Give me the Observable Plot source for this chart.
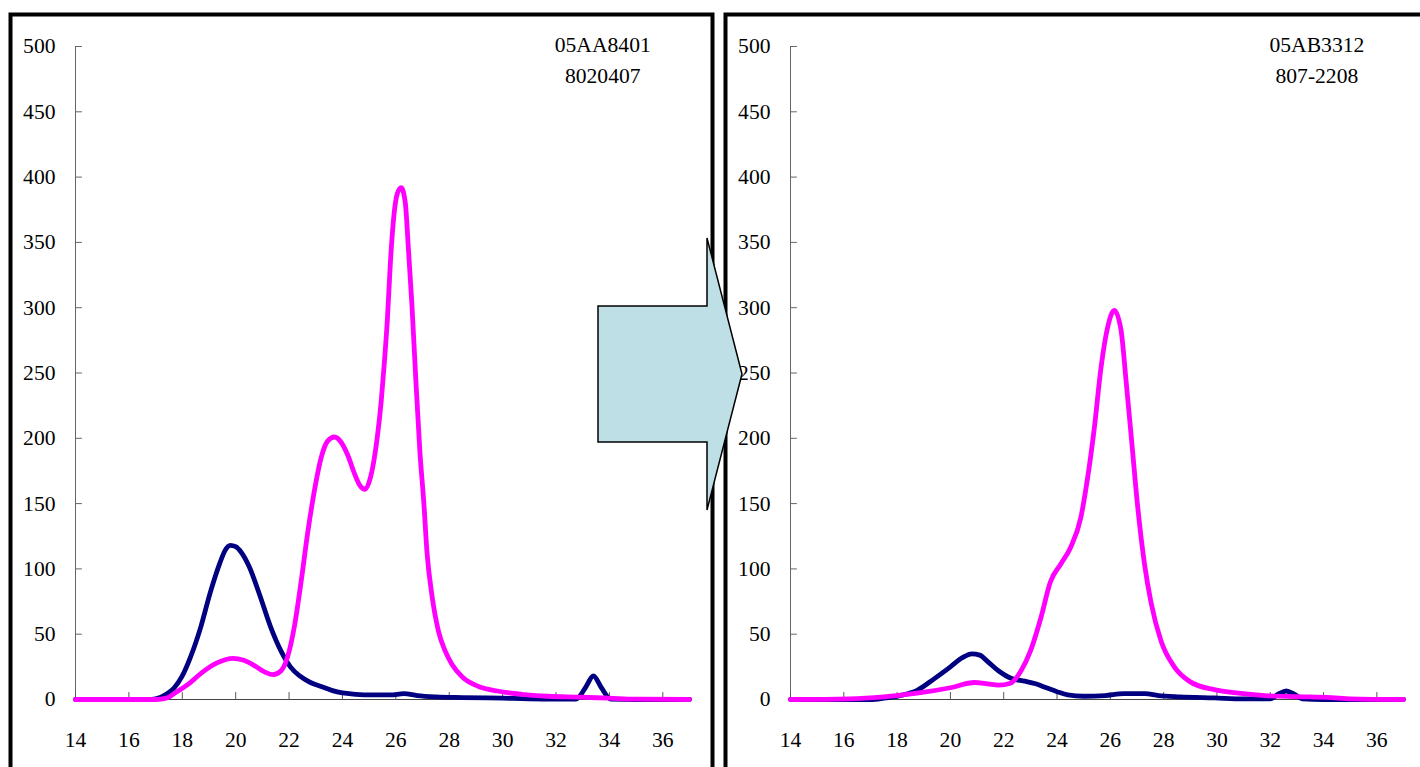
<!DOCTYPE html>
<html>
<head>
<meta charset="utf-8">
<script src="https://cdn.jsdelivr.net/npm/d3@7"></script>
<script src="https://cdn.jsdelivr.net/npm/@observablehq/plot@0.6"></script>
<style>
  html, body { margin: 0; padding: 0; background: #fff; }
  #wrap { position: relative; width: 1420px; height: 767px; overflow: hidden; background: #fff; }
  .panel { position: absolute; top: 0; }
  #overlay { position: absolute; left: 0; top: 0; }
</style>
</head>
<body>
<div id="wrap">
  <div id="p1" class="panel" style="left:0px"></div>
  <div id="p2" class="panel" style="left:715px"></div>
  <svg id="overlay" width="1420" height="767"></svg>
</div>
<script>
// ---- data ----
const xTicks = [14, 16, 18, 20, 22, 24, 26, 28, 30, 32, 34, 36];
const yTicks = [0, 50, 100, 150, 200, 250, 300, 350, 400, 450, 500];
const xDomain = [14, 37];
const yDomain = [0, 500];

const leftLabels = ["05AA8401", "8020407"];
const rightLabels = ["05AB3312", "807-2208"];

const leftNavy = [[14,0],[16,0],[16.7,0],[17.0,0.5],[17.4,4],[17.7,9],[18.0,18],[18.3,32],[18.7,56],[19.05,82],[19.4,104],[19.6,114],[19.8,118],[20.0,117],[20.2,113],[20.5,102],[20.9,80],[21.3,56],[21.7,37],[22.05,25],[22.4,18],[22.8,13],[23.2,10],[23.6,7],[24.0,5],[24.5,4],[25.0,3.5],[25.8,3.5],[26.3,4.5],[26.8,3],[27.5,2],[28.5,1.5],[30,1],[31,0.5],[32,0.3],[32.75,0.3],[33.1,9],[33.4,18],[33.7,9],[34.05,0.3],[35,0],[37,0]];

const leftMagenta = [[14,0],[17,0],[17.4,1],[17.8,6],[18.3,13],[18.7,20],[19.3,28],[19.9,31.5],[20.3,30],[20.7,26],[21.1,21],[21.4,19],[21.7,22],[21.95,33],[22.2,56],[22.45,90],[22.7,128],[22.95,160],[23.2,185],[23.45,198],[23.7,201],[23.95,197],[24.2,187],[24.45,173],[24.65,164],[24.85,161],[25.05,170],[25.3,200],[25.45,228],[25.57,258],[25.68,290],[25.8,336],[25.92,369],[26.05,387],[26.2,392],[26.35,381],[26.48,342],[26.6,303],[26.73,252],[26.9,190],[27.05,150],[27.17,112],[27.35,80],[27.6,52],[27.85,37],[28.1,27],[28.5,17],[29.1,10],[29.8,6.5],[30.7,4],[31.7,2.5],[32.9,1.8],[34,1],[35,0.3],[37,0]];

const rightNavy = [[14,0],[17,0],[17.5,1],[18.1,3],[18.75,7],[19.4,16],[20.0,25],[20.45,32],[20.8,35],[21.1,34],[21.4,29],[21.8,22],[22.3,16],[22.8,14],[23.2,12],[23.6,9],[24.0,6],[24.4,3.5],[25.0,2.5],[25.8,3],[26.5,4.5],[27.3,4.5],[27.8,3],[28.6,2],[29.9,1.2],[31,0.5],[32,0.5],[32.3,4],[32.6,6.5],[32.9,4],[33.2,0.5],[34,0],[37,0]];

const rightMagenta = [[14,0],[16.2,0.5],[17.5,2],[18.75,4.8],[20.0,9],[20.9,13],[21.4,12],[21.8,11],[22.25,12.5],[22.65,22],[23.0,37],[23.4,63],[23.75,90],[24.15,104],[24.5,116],[24.9,140],[25.15,170],[25.4,208],[25.65,254],[25.9,285],[26.15,298],[26.4,283],[26.6,242],[26.8,198],[27.03,147],[27.28,104],[27.53,74],[27.9,45],[28.4,25],[29.0,13.5],[29.9,7.5],[30.8,4.8],[31.8,3],[33.0,2.2],[34.3,1.5],[35,0.5],[37,0]];

const navyColor = "#000080";
const magentaColor = "#FF00FF";

// ---- chart ----
const tickShape = { draw(ctx, l) { ctx.moveTo(0, 0); ctx.lineTo(0, -l); } };
const FONT = "Liberation Serif, Times New Roman, serif";

function panel(navy, magenta, labels, width, marginRight) {
  return Plot.plot({
    width, height: 767,
    marginLeft: 75, marginRight, marginTop: 46, marginBottom: 68,
    x: { domain: xDomain },
    y: { domain: yDomain },
    style: { fontFamily: FONT, fontSize: "21.6px", background: "transparent", color: "#000" },
    marks: [
      Plot.ruleX([xDomain[0]], { y1: yDomain[0], y2: yDomain[1], stroke: "#666", strokeWidth: 1 }),
      Plot.ruleY([0], { x1: xDomain[0], x2: xDomain[1], stroke: "#444", strokeWidth: 1 }),
      Plot.vector(yTicks, { x: () => xDomain[0], y: d => d, length: 6, rotate: 90, anchor: "start", shape: tickShape, stroke: "#666", strokeWidth: 1 }),
      Plot.vector(xTicks, { x: d => d, y: () => 0, length: 7, rotate: 0, anchor: "start", shape: tickShape, stroke: "#555", strokeWidth: 1 }),
      Plot.axisY({ ticks: yTicks, tickSize: 0, tickPadding: 20, label: null, fontSize: "21.6px" }),
      Plot.axisX({ ticks: xTicks, tickSize: 0, tickPadding: 32, label: null, fontSize: "21.6px" }),
      Plot.line(navy, { x: d => d[0], y: d => d[1], stroke: navyColor, strokeWidth: 4.8, curve: "monotone-x", strokeLinejoin: "round", strokeLinecap: "round" }),
      Plot.line(magenta, { x: d => d[0], y: d => d[1], stroke: magentaColor, strokeWidth: 4.8, curve: "monotone-x", strokeLinejoin: "round", strokeLinecap: "round" }),
      Plot.text([labels[0]], { x: () => 33.75, y: () => 500, text: d => d, dy: -1, fontSize: 21.6, fill: "#000" }),
      Plot.text([labels[1]], { x: () => 33.75, y: () => 500, text: d => d, dy: 30, fontSize: 21.6, fill: "#000" })
    ]
  });
}

document.getElementById("p1").appendChild(panel(leftNavy, leftMagenta, leftLabels, 715, 26));
document.getElementById("p2").appendChild(panel(rightNavy, rightMagenta, rightLabels, 705, 17));

// ---- decorations: panel frames and arrow ----
const ov = d3.select("#overlay");
ov.append("rect").attr("x", 10.5).attr("y", 14.5).attr("width", 702).attr("height", 800)
  .attr("fill", "none").attr("stroke", "#000").attr("stroke-width", 4);
ov.append("rect").attr("x", 725.5).attr("y", 14.5).attr("width", 800).attr("height", 800)
  .attr("fill", "none").attr("stroke", "#000").attr("stroke-width", 4);
ov.append("polygon")
  .attr("points", "598,306 707,306 707,238 742,374 707,510 707,442 598,442")
  .attr("fill", "#BDDFE5").attr("stroke", "#000").attr("stroke-width", 1.5).attr("stroke-linejoin", "miter");
</script>
</body>
</html>
